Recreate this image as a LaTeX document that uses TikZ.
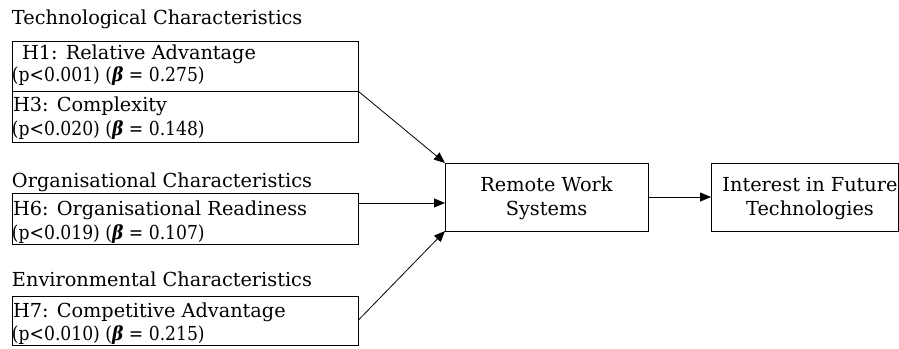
\documentclass[tikz,border=0pt]{standalone}
\usepackage{fontspec}
\setmainfont{DejaVu Serif}
\usetikzlibrary{arrows.meta,calc}

\newcommand{\bt}{\textbf{\textit{β}}}
% statistics lines are set slightly narrower
\newcommand{\stat}[1]{\scalebox{0.89}[1]{#1}}

\begin{document}
\begin{tikzpicture}[x=1pt,y=-1pt,
  every node/.style={inner sep=0pt,outer sep=0pt},
  txt/.style={anchor=base west,font=\fontsize{19.3}{22}\selectfont},
  ctxt/.style={anchor=base,font=\fontsize{19.3}{22}\selectfont},
  hbox/.style={draw,line width=0.9pt},
  conn/.style={draw,line width=0.8pt,-{Triangle[length=11pt,width=9pt]}}
]
\useasboundingbox (0,0) rectangle (899,348);
\clip (0,0) rectangle (899,348);

% factor boxes
\node[hbox,minimum width=346pt,minimum height=50pt,anchor=north west] (h1) at (12,41) {};
\node[hbox,minimum width=346pt,minimum height=51pt,anchor=north west] (h3) at (12,91) {};
\node[hbox,minimum width=346pt,minimum height=51pt,anchor=north west] (h6) at (12,193) {};
\node[hbox,minimum width=346pt,minimum height=49pt,anchor=north west] (h7) at (12,296) {};

% outcome boxes
\node[hbox,minimum width=203pt,minimum height=68pt] (remote) at (546.5,197) {};
\node[hbox,minimum width=187pt,minimum height=68pt] (interest) at (804.5,197) {};

% group headings
\node[txt] (tech) at (12,24) {Technological Characteristics};
\node[txt] (org) at (12,187) {Organisational Characteristics};
\node[txt] (env) at (12,286) {Environmental Characteristics};

% hypothesis texts
\node[txt] (h1a) at (22,59) {H1: Relative Advantage};
\node[txt] (h1b) at (12,81) {\stat{(p<0.001) (\bt{} = 0.275)}};
\node[txt] (h3a) at (13,111) {H3: Complexity};
\node[txt] (h3b) at (12,135) {\stat{(p<0.020) (\bt{} = 0.148)}};
\node[txt] (h6a) at (13,215) {H6: Organisational Readiness};
\node[txt] (h6b) at (12,239) {\stat{(p<0.019) (\bt{} = 0.107)}};
\node[txt] (h7a) at (13,317) {H7: Competitive Advantage};
\node[txt] (h7b) at (12,340) {\stat{(p<0.010) (\bt{} = 0.215)}};

% outcome texts
\node[ctxt] (rt1) at (546.5,191) {Remote Work};
\node[ctxt] (rt2) at (546.5,215) {Systems};
\node[ctxt] (it1) at (810,191) {Interest in Future};
\node[ctxt] (it2) at (810,215) {Technologies};

% connectors
\coordinate (h6out) at ([yshift=-10pt]h6.north east);
\draw[conn] (h1.south east) -- (remote.north west);
\draw[conn] (h6out) -- (h6out -| remote.west);
\draw[conn] (h7.east) -- (remote.south west);
\draw[conn] (remote.east) -- (interest.west);
\end{tikzpicture}
\end{document}
